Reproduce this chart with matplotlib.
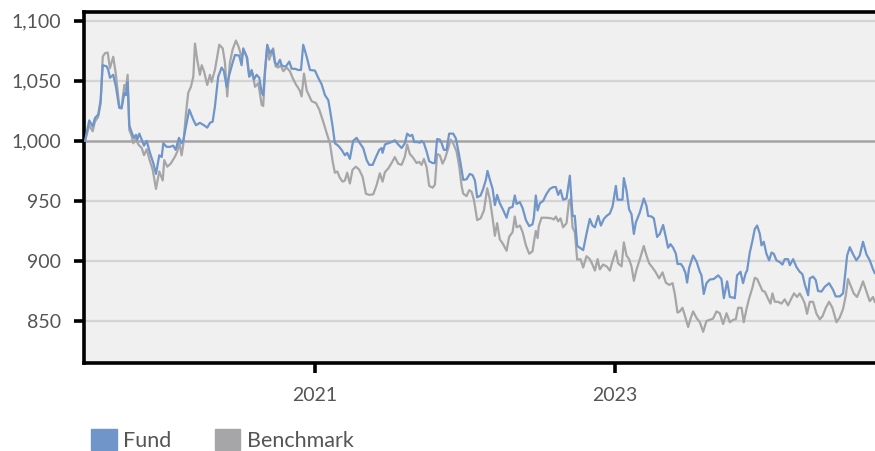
import matplotlib
matplotlib.use('Agg')
import matplotlib.pyplot as plt
from matplotlib.patches import Patch
from matplotlib.ticker import FuncFormatter

plt.rcParams['font.family'] = ['Lato', 'DejaVu Sans']

# fund: time in decimal years, value of 1,000 invested
fund_t = [2019.467, 2019.495, 2019.518, 2019.533, 2019.555, 2019.571, 2019.585, 2019.611, 2019.622, 2019.633,
          2019.655, 2019.673, 2019.695, 2019.711, 2019.729, 2019.740, 2019.751, 2019.762, 2019.778, 2019.793,
          2019.807, 2019.815, 2019.829, 2019.845, 2019.860, 2019.878, 2019.900, 2019.922, 2019.940, 2019.962,
          2019.978, 2019.989, 2020.011, 2020.033, 2020.055, 2020.071, 2020.093, 2020.111, 2020.122, 2020.140,
          2020.162, 2020.189, 2020.207, 2020.233, 2020.260, 2020.282, 2020.300, 2020.318, 2020.333, 2020.355,
          2020.378, 2020.393, 2020.411, 2020.429, 2020.451, 2020.467, 2020.495, 2020.511, 2020.522, 2020.545,
          2020.562, 2020.578, 2020.593, 2020.611, 2020.629, 2020.645, 2020.655, 2020.667, 2020.682, 2020.700,
          2020.718, 2020.733, 2020.749, 2020.767, 2020.778, 2020.793, 2020.807, 2020.829, 2020.845, 2020.867,
          2020.889, 2020.907, 2020.922, 2020.945, 2020.967, 2021.000, 2021.022, 2021.045, 2021.067, 2021.089,
          2021.100, 2021.118, 2021.133, 2021.155, 2021.178, 2021.200, 2021.215, 2021.233, 2021.255, 2021.278,
          2021.300, 2021.322, 2021.345, 2021.362, 2021.385, 2021.407, 2021.429, 2021.445, 2021.451, 2021.467,
          2021.489, 2021.511, 2021.533, 2021.555, 2021.578, 2021.600, 2021.615, 2021.633, 2021.649, 2021.662,
          2021.682, 2021.700, 2021.711, 2021.727, 2021.745, 2021.762, 2021.785, 2021.800, 2021.815, 2021.833,
          2021.845, 2021.860, 2021.878, 2021.895, 2021.922, 2021.940, 2021.955, 2021.971, 2021.989, 2022.011,
          2022.033, 2022.051, 2022.067, 2022.082, 2022.105, 2022.122, 2022.140, 2022.151, 2022.167, 2022.185,
          2022.200, 2022.215, 2022.233, 2022.255, 2022.278, 2022.295, 2022.318, 2022.333, 2022.345, 2022.367,
          2022.385, 2022.407, 2022.429, 2022.451, 2022.460, 2022.473, 2022.485, 2022.500, 2022.522, 2022.545,
          2022.567, 2022.589, 2022.607, 2022.622, 2022.638, 2022.655, 2022.678, 2022.700, 2022.718, 2022.733,
          2022.749, 2022.767, 2022.789, 2022.811, 2022.833, 2022.851, 2022.867, 2022.889, 2022.907, 2022.927,
          2022.945, 2022.967, 2022.985, 2023.007, 2023.018, 2023.038, 2023.051, 2023.060, 2023.078, 2023.095,
          2023.111, 2023.127, 2023.140, 2023.167, 2023.193, 2023.211, 2023.222, 2023.245, 2023.260, 2023.282,
          2023.300, 2023.322, 2023.340, 2023.355, 2023.371, 2023.389, 2023.407, 2023.418, 2023.440, 2023.455,
          2023.471, 2023.482, 2023.495, 2023.522, 2023.545, 2023.567, 2023.578, 2023.593, 2023.611, 2023.633,
          2023.660, 2023.689, 2023.711, 2023.727, 2023.749, 2023.767, 2023.789, 2023.800, 2023.815, 2023.838,
          2023.855, 2023.873, 2023.882, 2023.900, 2023.918, 2023.933, 2023.949, 2023.967, 2023.978, 2023.993,
          2024.011, 2024.029, 2024.045, 2024.060, 2024.078, 2024.100, 2024.118, 2024.133, 2024.155, 2024.167,
          2024.189, 2024.211, 2024.233, 2024.251, 2024.267, 2024.289, 2024.300, 2024.322, 2024.340, 2024.355,
          2024.378, 2024.400, 2024.429, 2024.455, 2024.473, 2024.500, 2024.522, 2024.538, 2024.549, 2024.567,
          2024.589, 2024.611, 2024.633, 2024.655, 2024.678, 2024.700, 2024.722, 2024.733]
fund_v = [1000, 1017, 1012, 1019, 1022, 1034, 1063, 1062, 1059, 1052.5,
          1055, 1045, 1027.5, 1027, 1040, 1038, 1049, 1013, 1007, 1002.5,
          1005, 1001, 1006, 1001, 996, 1000, 990, 981.5, 972.5, 988,
          986.5, 998, 995, 995, 996, 992.5, 1002.5, 998, 1000, 1012,
          1026, 1017.5, 1013, 1015, 1013, 1011, 1015, 1016, 1028.5, 1053.5,
          1061, 1058, 1045, 1055, 1065, 1071.5, 1071, 1063, 1077, 1070,
          1053.5, 1059, 1051, 1055, 1052.5, 1040, 1038, 1059, 1080, 1073,
          1076, 1065, 1063, 1067.5, 1063, 1062, 1062, 1066, 1060, 1060,
          1059, 1059, 1080, 1070, 1059, 1058.5, 1052.5, 1047, 1038, 1034,
          1026, 1012, 998, 996, 992.5, 988, 990, 985, 1000, 1002.5,
          998, 994, 984, 980, 980, 986.5, 992.5, 994, 990, 997,
          998, 999, 1000.5, 997, 994, 998, 1006, 1004, 1005, 999,
          999, 998.5, 1000, 998, 991, 983, 981.5, 981.5, 1001.5, 1001,
          998, 992.5, 992.5, 1006, 1006, 1002, 992.5, 981.5, 967.5, 968,
          972.5, 971.5, 967, 953, 954.5, 960, 967.5, 975, 967.5, 960,
          946.5, 955, 948, 942.5, 936, 944, 945, 954.5, 947.5, 949,
          944, 934, 929, 930.5, 936, 954.5, 942, 948, 950, 956,
          960, 961.5, 961.5, 955, 959, 951, 952, 971, 937.5, 937.5,
          912.5, 911, 909, 922.5, 935, 929.5, 928, 937.5, 929.5, 935,
          937.5, 939.5, 945.5, 962.5, 951, 951, 951, 969, 958.5, 943,
          939, 922.5, 932, 940.5, 952, 946, 937.5, 937, 935.5, 920,
          922.5, 930, 920, 911, 914, 911, 906, 897.5, 897.5, 895,
          890, 882, 894, 904.5, 899.5, 891, 888, 872.5, 881.5, 884.5,
          885, 888, 885, 869, 883, 870, 869.5, 869, 888, 891,
          881.5, 890, 892, 907, 917, 926.5, 929.5, 922.5, 913, 916,
          906, 900.5, 907, 906, 900.5, 899, 897, 901.5, 901.5, 896.5,
          901.5, 895, 891, 889, 880.5, 871.5, 885.5, 887, 884, 875,
          874.5, 878.5, 881.5, 876, 870.5, 870.5, 873, 891, 904.5, 911.5,
          905.5, 900.5, 904.5, 916, 905.5, 900.5, 893, 890]

# benchmark
bench_t = [2019.467, 2019.495, 2019.518, 2019.533, 2019.555, 2019.571, 2019.585, 2019.600, 2019.618, 2019.633,
           2019.655, 2019.673, 2019.695, 2019.711, 2019.729, 2019.738, 2019.751, 2019.762, 2019.778, 2019.789,
           2019.807, 2019.822, 2019.845, 2019.860, 2019.878, 2019.900, 2019.918, 2019.940, 2019.962, 2019.985,
           2019.995, 2020.015, 2020.038, 2020.067, 2020.082, 2020.095, 2020.111, 2020.122, 2020.140, 2020.155,
           2020.173, 2020.189, 2020.200, 2020.215, 2020.233, 2020.245, 2020.260, 2020.282, 2020.300, 2020.311,
           2020.333, 2020.362, 2020.385, 2020.400, 2020.415, 2020.433, 2020.451, 2020.473, 2020.489, 2020.511,
           2020.527, 2020.549, 2020.562, 2020.585, 2020.600, 2020.622, 2020.645, 2020.655, 2020.667, 2020.682,
           2020.695, 2020.722, 2020.738, 2020.755, 2020.771, 2020.789, 2020.811, 2020.833, 2020.851, 2020.873,
           2020.889, 2020.900, 2020.911, 2020.927, 2020.945, 2020.978, 2021.007, 2021.029, 2021.055, 2021.082,
           2021.100, 2021.118, 2021.133, 2021.149, 2021.167, 2021.185, 2021.200, 2021.215, 2021.233, 2021.251,
           2021.273, 2021.295, 2021.318, 2021.340, 2021.362, 2021.389, 2021.411, 2021.433, 2021.451, 2021.467,
           2021.489, 2021.511, 2021.533, 2021.555, 2021.578, 2021.600, 2021.615, 2021.633, 2021.655, 2021.678,
           2021.695, 2021.711, 2021.727, 2021.745, 2021.762, 2021.785, 2021.800, 2021.815, 2021.833, 2021.851,
           2021.867, 2021.889, 2021.905, 2021.922, 2021.945, 2021.962, 2021.978, 2021.989, 2022.011, 2022.029,
           2022.045, 2022.060, 2022.082, 2022.105, 2022.127, 2022.149, 2022.167, 2022.185, 2022.200, 2022.215,
           2022.233, 2022.255, 2022.278, 2022.295, 2022.318, 2022.333, 2022.345, 2022.367, 2022.385, 2022.407,
           2022.429, 2022.451, 2022.462, 2022.473, 2022.485, 2022.493, 2022.511, 2022.545, 2022.578, 2022.593,
           2022.607, 2022.622, 2022.638, 2022.655, 2022.678, 2022.695, 2022.705, 2022.718, 2022.733, 2022.749,
           2022.771, 2022.789, 2022.811, 2022.833, 2022.851, 2022.867, 2022.885, 2022.900, 2022.922, 2022.945,
           2022.967, 2022.985, 2023.007, 2023.022, 2023.045, 2023.060, 2023.078, 2023.095, 2023.111, 2023.127,
           2023.145, 2023.167, 2023.193, 2023.211, 2023.229, 2023.251, 2023.273, 2023.295, 2023.318, 2023.340,
           2023.362, 2023.385, 2023.400, 2023.418, 2023.433, 2023.451, 2023.467, 2023.489, 2023.505, 2023.522,
           2023.545, 2023.567, 2023.589, 2023.611, 2023.633, 2023.655, 2023.678, 2023.700, 2023.722, 2023.745,
           2023.767, 2023.789, 2023.807, 2023.822, 2023.845, 2023.860, 2023.878, 2023.895, 2023.918, 2023.933,
           2023.949, 2023.967, 2023.985, 2024.000, 2024.022, 2024.038, 2024.051, 2024.067, 2024.089, 2024.111,
           2024.133, 2024.155, 2024.178, 2024.195, 2024.215, 2024.233, 2024.251, 2024.267, 2024.282, 2024.300,
           2024.322, 2024.345, 2024.367, 2024.385, 2024.407, 2024.429, 2024.451, 2024.478, 2024.500, 2024.522,
           2024.540, 2024.555, 2024.571, 2024.593, 2024.615, 2024.638, 2024.655, 2024.678, 2024.700, 2024.722,
           2024.733]
bench_v = [1000, 1013, 1008, 1016, 1020, 1031, 1070, 1073, 1073.5, 1060.5,
           1070, 1055, 1028.5, 1028.5, 1046.5, 1042, 1055, 1009, 1004, 998,
           1002, 997, 994, 988, 993, 983, 976, 960, 974.5, 967,
           984, 978.5, 981, 987, 991, 999, 988, 997, 1023, 1040,
           1045, 1053.5, 1081, 1067.5, 1055, 1063, 1058, 1046.5, 1055, 1049,
           1059, 1080, 1077, 1065, 1037, 1065, 1076, 1083.5, 1079, 1070,
           1075, 1069, 1053.5, 1056, 1045, 1048, 1030, 1029, 1056, 1079,
           1067.5, 1077, 1062, 1061, 1063, 1058, 1061, 1058, 1052.5, 1047,
           1044, 1041.5, 1037, 1056, 1042, 1033, 1031.5, 1026, 1016, 1005,
           998, 983, 973.5, 974.5, 969, 966, 967, 973.5, 964.5, 976,
           978.5, 976, 970, 956, 955, 955.5, 963, 973, 966, 974,
           977, 981.5, 986.5, 981, 980, 987, 997, 989, 986, 981.5,
           982.5, 980, 985, 978, 962.5, 961, 963.5, 989, 988, 981,
           985, 994, 1001, 998, 991, 979, 962.5, 956, 954, 959,
           957.5, 951, 934, 935.5, 942, 960.5, 951, 935.5, 921, 931.5,
           918, 914, 908.5, 920, 924, 937, 928, 929.5, 924, 913,
           906, 908, 917, 925, 919, 929, 936, 936, 935.5, 934.5,
           937, 933, 935.5, 928, 931.5, 950.5, 951.5, 928, 924, 901,
           901.5, 894.5, 904, 901.5, 897, 892, 901.5, 893, 897, 895.5,
           892, 900, 908.5, 898, 895.5, 915.5, 904.5, 901.5, 895.5, 883.5,
           893, 901.5, 912.5, 904.5, 898, 894.5, 890.5, 885.5, 890.5, 882,
           880, 881.5, 872.5, 857, 858, 861, 854.5, 845, 852, 858,
           852.5, 849, 841, 850, 851, 852, 858, 856.5, 847.5, 856.5,
           849, 851, 851.5, 861, 861, 849, 860, 868.5, 878, 886,
           885, 880, 875, 874.5, 868.5, 864.5, 873, 866, 866, 864.5,
           868, 863, 869, 873, 870, 873, 869, 864.5, 856, 866,
           866, 856, 851.5, 854, 861, 866, 861, 849, 853, 860,
           871, 885, 880, 873, 870, 877, 883, 874.5, 866.5, 870,
           866]

y_ticks = [850, 900, 950, 1000, 1050, 1100]
x_ticks = [2021, 2023]
x_labels = ['2021', '2023']

fund_color = '#6f95c9'
bench_color = '#a6a6a8'
text_color = '#555555'

fig = plt.figure(figsize=(8.75, 4.51), dpi=100)
ax = fig.add_axes([0.096, 0.195, 0.904, 0.779])
ax.set_facecolor('#f0f0f0')

# gridlines; the 1,000 start value gets a darker line
for y in y_ticks:
    if y == 1000:
        ax.axhline(y, color='#a3a3a3', lw=1.8, zorder=1)
    else:
        ax.axhline(y, color='#d4d4d4', lw=1.6, zorder=1)

ax.plot(bench_t, bench_v, color=bench_color, lw=1.6, zorder=2)
ax.plot(fund_t, fund_v, color=fund_color, lw=1.6, zorder=3)

ax.set_xlim(2019.46, 2024.735)
ax.set_ylim(815, 1107.5)
ax.set_yticks(y_ticks)
ax.yaxis.set_major_formatter(FuncFormatter(lambda v, p: f'{int(v):,}'))
ax.set_xticks(x_ticks)
ax.set_xticklabels(x_labels)

for side in ['left', 'top', 'bottom']:
    ax.spines[side].set_linewidth(2.6)
    ax.spines[side].set_color('black')
ax.spines['right'].set_visible(False)
ax.tick_params(axis='both', length=7.5, width=2.6, color='black',
               labelcolor=text_color, labelsize=14)
ax.tick_params(axis='y', pad=9)
ax.tick_params(axis='x', pad=10)

handles = [Patch(color=fund_color, label='Fund'),
           Patch(color=bench_color, label='Benchmark')]
fig.legend(handles=handles, loc='upper left', bbox_to_anchor=(0.104, 0.049),
           ncol=2, frameon=False, fontsize=15.5, borderpad=0, borderaxespad=0,
           handlelength=1.2, handleheight=1.1, handletextpad=0.3,
           columnspacing=2.0, labelcolor=text_color)

fig.savefig('out.png', dpi=100, facecolor='white')
